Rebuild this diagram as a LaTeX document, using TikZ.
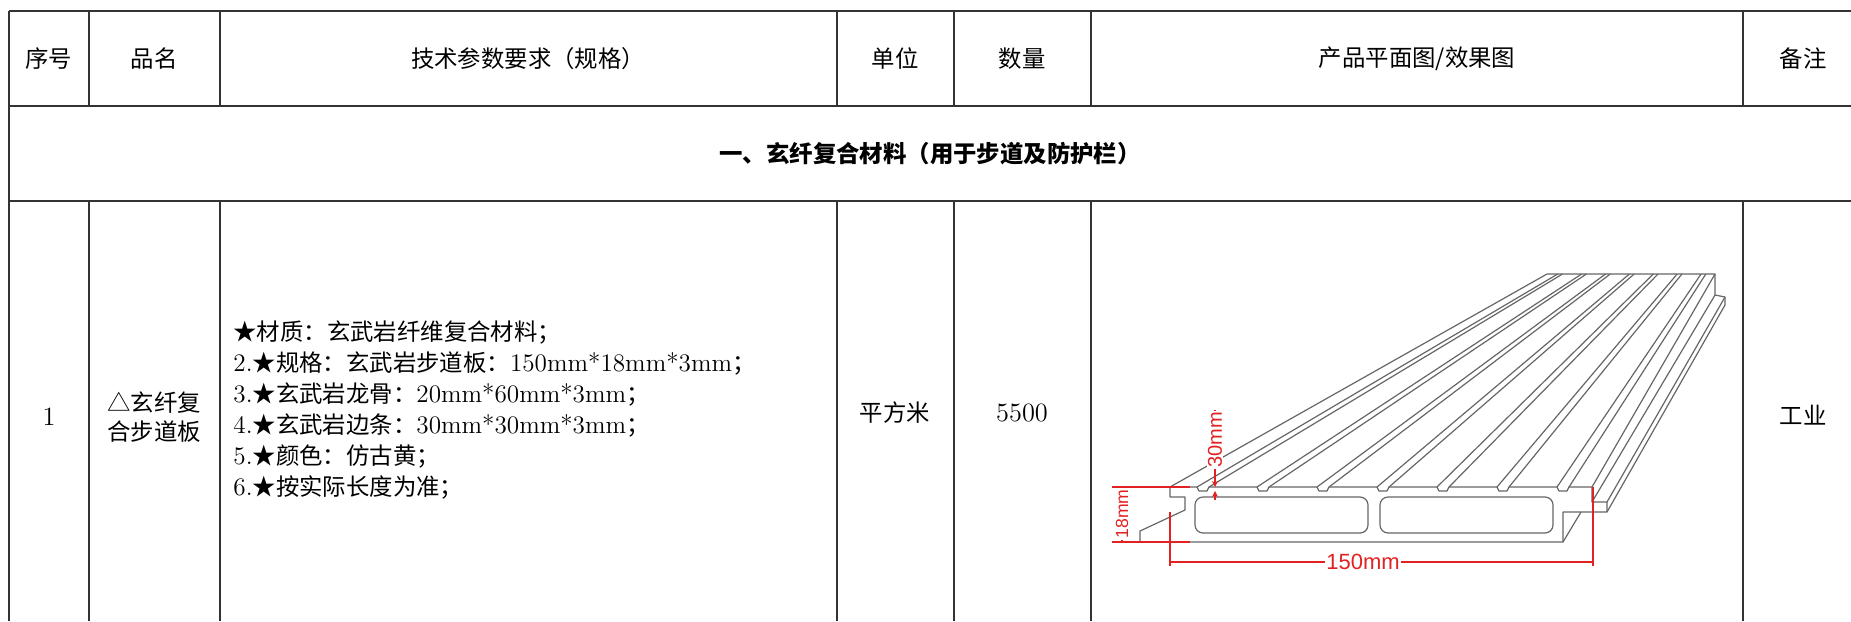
\documentclass[tikz,border=0pt]{standalone}
\usepackage{fontspec}
\newfontfamily\cjk{Noto Sans CJK SC}
\newfontfamily\arial{Liberation Sans}
\newcommand\latn[1]{{\rmfamily\fontsize{12.6}{15.5}\selectfont #1}}
\definecolor{dimred}{RGB}{226,34,34}
\usetikzlibrary{arrows.meta}

\begin{document}
\begin{tikzpicture}[x=0.5pt,y=-0.5pt,every node/.style={inner sep=1pt},
      >={Stealth[width=3pt,length=3pt]},
      rule/.style={line width=1pt,draw=black!80},
      txt/.style={font=\cjk\fontsize{11.7}{14.5}\selectfont,align=center},
      board/.style={draw=black!60,line width=0.6pt,line join=round},
      dim/.style={draw=dimred,line width=0.6pt},
      dimtxt/.style={text=dimred,fill=white,font=\arial\fontsize{10}{10}\selectfont,inner sep=0.6pt}]
  \useasboundingbox (0,0) rectangle (1851,621);
  \draw[rule] (9,11) -- (1851,11) (9,106) -- (1851,106) (9,201) -- (1851,201) (9,11) -- (9,621);
  \foreach \x in {89,220,837,954,1091,1743}
    \draw[rule] (\x,11) -- (\x,106) (\x,201) -- (\x,621);
  \node[txt] (hno) at (49,59) {序号};
  \node[txt] (hname) at (154,59) {品名};
  \node[txt] (hspec) at (528,59) {技术参数要求（规格）};
  \node[txt] (hunit) at (895,59) {单位};
  \node[txt] (hqty) at (1022,59) {数量};
  \node[txt] (hpic) at (1417,59) {产品平面图/效果图};
  \node[txt] (hnote) at (1803,59) {备注};
  \node[txt,font=\cjk\bfseries\fontsize{11.7}{14}\selectfont] (sec) at (930,154) {一、玄纤复合材料（用于步道及防护栏）};
  \node[txt,font=\fontsize{13.2}{14}\selectfont] (no) at (49,417) {1};
  \node[txt] (name) at (154,417) {△玄纤复\\合步道板};
  \node[txt,align=left,anchor=west,font=\cjk\fontsize{11.7}{15.5}\selectfont] (spec) at (231,410)
    {★材质：玄武岩纤维复合材料；\\
     \latn{2.}★规格：玄武岩步道板：\latn{150mm*18mm*3mm}；\\
     \latn{3.}★玄武岩龙骨：\latn{20mm*60mm*3mm}；\\
     \latn{4.}★玄武岩边条：\latn{30mm*30mm*3mm}；\\
     \latn{5.}★颜色：仿古黄；\\
     \latn{6.}★按实际长度为准；};
  \node[txt] (unit) at (895,413) {平方米};
  \node[txt,font=\fontsize{13.2}{14}\selectfont] (qty) at (1022,413) {5500};
  \node[txt] (note) at (1803,415) {工业};
  \draw[board] (1170,487) -- (1547,274) -- (1715,274) -- (1592,487);
  \draw[board] (1170,487) foreach \a in {1197,1257,...,1557} {-- (\a,487) -- (\a+2,491) -- (\a+10,491) -- (\a+12,487)}
     -- (1592,487) -- (1592,502) -- (1607,502) -- (1607,512) -- (1563,512) -- (1563,542) -- (1140,542)
     -- (1140,531) -- (1185,510) -- (1185,497) -- (1170,497) -- cycle;
  \foreach \a in {1197,1257,...,1557}
    \draw[board] (\a,487) -- ({1547+0.398*(\a-1170)},274) (\a+12,487) -- ({1547+0.398*(\a+12-1170)},274);
  \draw[board,rounded corners=4pt] (1195,497) rectangle (1368,533) (1380,497) rectangle (1553,533);
  \draw[board] (1715,274) -- (1715,295) -- (1725,297) -- (1725,305);
  \draw[board] (1592,502) -- (1715,295) (1607,502) -- (1725,297) (1607,512) -- (1725,305);
  \draw[board] (1563,542) -- (1581,512) (1170,512) -- (1170,542);
  \draw[dim] (1112,487) -- (1190,487) (1112,542) -- (1190,542) (1122,487) -- (1122,542);
  \node[dimtxt,rotate=90,font=\arial\fontsize{8.8}{9}\selectfont] (d18) at (1122,514) {18mm};
  \draw[dim,->] (1215,410) -- (1215,487);
  \draw[dim,->] (1215,500) -- (1215,491);
  \node[dimtxt,rotate=90] (d30) at (1215,440) {30mm};
  \draw[dim] (1170,512) -- (1170,566) (1593,487) -- (1593,566) (1170,562) -- (1593,562);
  \node[dimtxt,font=\arial\fontsize{11}{11}\selectfont] (d150) at (1363,562) {150mm};
\end{tikzpicture}
\end{document}
